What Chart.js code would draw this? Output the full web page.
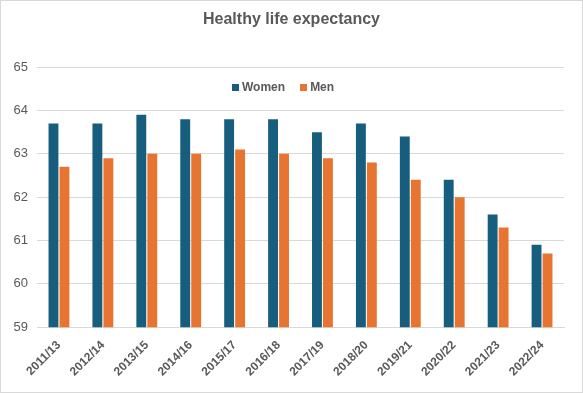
<!DOCTYPE html>
<html>
<head>
<meta charset="utf-8">
<script src="https://cdn.jsdelivr.net/npm/chart.js@4"></script>
<style>
  body { margin: 0; background: #fff; }
  #box { width: 583px; height: 393px; box-sizing: border-box; border: 1px solid #d9d9d9; position: relative; }
  canvas { position: absolute; left: 0; top: 0; }
  #legenda { position: absolute; left: 231px; top: 79px; font: bold 12px 'Liberation Sans', Arial, sans-serif; color: #595959; white-space: nowrap; }
  #legenda span.item { margin-right: 15px; }
  #legenda i { display: inline-block; width: 7px; height: 7px; margin-right: 3px; }
</style>
</head>
<body>
<div id="box"><canvas id="grafico" width="581" height="391"></canvas><div id="legenda"></div></div>
<script>
// dados
const periodos = ['2011/13', '2012/14', '2013/15', '2014/16', '2015/17', '2016/18',
  '2017/19', '2018/20', '2019/21', '2020/22', '2021/23', '2022/24'];
const mulheres = [63.7, 63.7, 63.9, 63.8, 63.8, 63.8, 63.5, 63.7, 63.4, 62.4, 61.6, 60.9];
const homens = [62.7, 62.9, 63.0, 63.0, 63.1, 63.0, 62.9, 62.8, 62.4, 62.0, 61.3, 60.7];

const fonte = "'Liberation Sans', Arial, sans-serif";

const grafico = new Chart(document.getElementById('grafico'), {
  type: 'bar',
  data: {
    labels: periodos,
    datasets: [
      { label: 'Women', data: mulheres, backgroundColor: '#175e7e' },
      { label: 'Men', data: homens, backgroundColor: '#e87431' }
    ]
  },
  options: {
    responsive: false,
    animation: false,
    layout: { padding: { left: 0, right: 0, top: 4, bottom: 10 } },
    datasets: { bar: { categoryPercentage: 0.5, barPercentage: 0.9 } },
    plugins: {
      title: {
        display: true,
        text: 'Healthy life expectancy',
        color: '#595959',
        font: { family: fonte, size: 16, weight: 'bold' },
        padding: { top: 5, bottom: 38 }
      },
      legend: { display: false },
      tooltip: { enabled: false }
    },
    scales: {
      x: {
        grid: { display: false },
        border: { color: '#d9d9d9' },
        ticks: {
          color: '#595959',
          font: { family: fonte, size: 12, weight: 'bold' },
          minRotation: 45, maxRotation: 45
        }
      },
      y: {
        min: 59, max: 65,
        grid: { color: '#d9d9d9', drawTicks: false },
        border: { display: false },
        afterFit: (scale) => { scale.width = 36; },
        ticks: {
          stepSize: 1,
          color: '#595959',
          padding: 9,
          font: { family: fonte, size: 13 }
        }
      },
      // eixo vazio só pra dar espaço à direita
      espaco: {
        position: 'right',
        grid: { display: false },
        border: { display: false },
        ticks: { display: false },
        afterFit: (scale) => { scale.width = 18; }
      }
    }
  }
});

// legenda em HTML, dentro da área do gráfico
const leg = document.getElementById('legenda');
grafico.data.datasets.forEach(ds => {
  leg.innerHTML += `<span class="item"><i style="background:${ds.backgroundColor}"></i>${ds.label}</span>`;
});
</script>
</body>
</html>
